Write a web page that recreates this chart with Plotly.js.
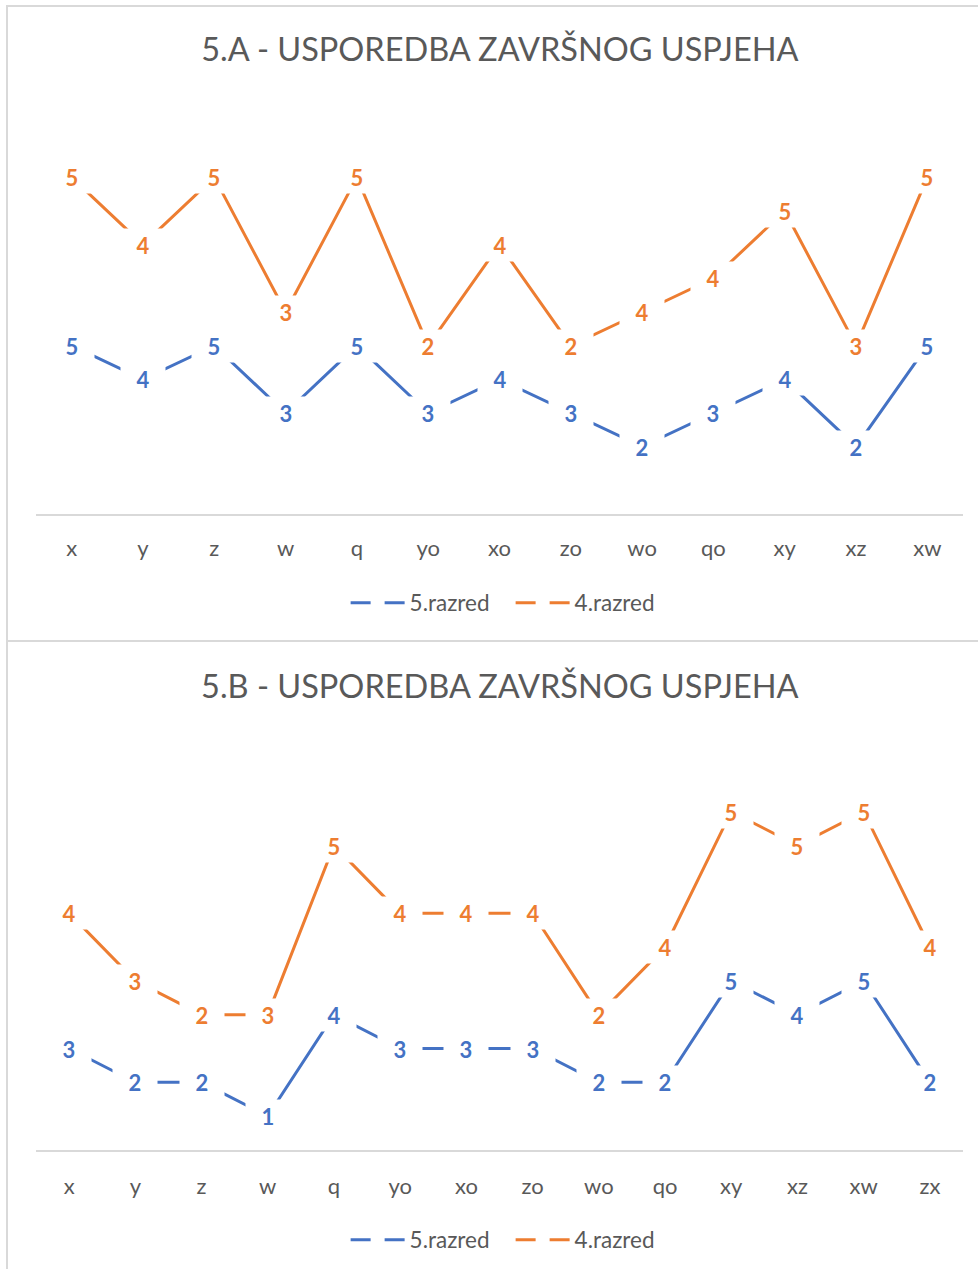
<!DOCTYPE html>
<html>
<head>
<meta charset="utf-8">
<script src="https://cdn.plot.ly/plotly-3.0.1.min.js"></script>
<style>
  html, body { margin:0; padding:0; background:#fff; width:978px; height:1269px; overflow:hidden; }
  .frame { position:absolute; border-left:2px solid #d9d9d9; border-top:2px solid #d9d9d9; background:#fff; }
  #f1 { left:6px; top:5px; width:980px; height:640px; }
  #f2 { left:6px; top:640px; width:980px; height:640px; }
</style>
</head>
<body>
<div class="frame" id="f1"><div id="c1"></div></div>
<div class="frame" id="f2"><div id="c2"></div></div>
<script>
// ---- Data: 5.A ----
const titleA = "5.A - USPOREDBA ZAVRŠNOG USPJEHA";
const catsA = ["x","y","z","w","q","yo","xo","zo","wo","qo","xy","xz","xw"];
const grade5A = [5,4,5,3,5,3,4,3,2,3,4,2,5];
const grade4A = [5,4,5,3,5,2,4,2,4,4,5,3,5];

// ---- Data: 5.B ----
const titleB = "5.B - USPOREDBA ZAVRŠNOG USPJEHA";
const catsB = ["x","y","z","w","q","yo","xo","zo","wo","qo","xy","xz","xw","zx"];
const grade5B = [3,2,2,1,4,3,3,3,2,2,5,4,5,2];
const grade4B = [4,3,2,3,5,4,4,4,2,4,5,5,5,4];

const seriesNames = ["5.razred","4.razred"];
const colors = ["#4472C4","#ED7D31"];
const FONT = "Lato, 'Open Sans', sans-serif";

function drawChart(divId, title, cats, s1, s2, opts) {
  // stacked line chart (Excel "Stacked Line")
  const stack2 = s2.map((v,i)=>v + s1[i]);
  const traces = [];
  traces.push({x:cats, y:s1, type:'scatter', mode:'lines', line:{color:colors[0], width:3}, showlegend:false, hoverinfo:'skip'});
  traces.push({x:cats, y:stack2, type:'scatter', mode:'lines', line:{color:colors[1], width:3}, showlegend:false, hoverinfo:'skip'});
  // legend entries
  traces.push({x:[null], y:[null], type:'scatter', mode:'lines', name:seriesNames[0], line:{color:colors[0], width:3, dash:'20px,14px'}});
  traces.push({x:[null], y:[null], type:'scatter', mode:'lines', name:seriesNames[1], line:{color:colors[1], width:3, dash:'20px,14px'}});

  const ann = [];
  const lab = (c, y, t, col) => ({x:c, y:y, text:t, showarrow:false, bgcolor:'#fff', borderpad:0,
      width:44, height:32, align:'center', valign:'middle',
      font:{family:FONT, size:22, color:col, weight:'bold'}});
  cats.forEach((c,i)=>{
    ann.push(lab(c, s1[i], String(s1[i]), colors[0]));
    ann.push(lab(c, stack2[i], String(s2[i]), colors[1]));
  });

  const layout = {
    width:972, height:opts.height,
    margin:{l:28, r:17, t:opts.top, b:opts.height-opts.axisY},
    paper_bgcolor:'#fff', plot_bgcolor:'#fff',
    font:{family:FONT, color:'#595959'},
    title:{text:title, x:0.506, xanchor:'center', yref:'container', y:1-opts.titleY/opts.height, yanchor:'middle',
      font:{family:FONT, size:32.5, color:'#595959'}},
    xaxis:{type:'category', range:[-0.5, cats.length-0.5], showgrid:false, zeroline:false,
      showline:true, linecolor:'#d9d9d9', linewidth:1.5, ticks:'', ticklabelstandoff:opts.tickStandoff,
      tickfont:{family:FONT, size:22, color:'#595959'}, fixedrange:true},
    yaxis:{range:[0,12], showgrid:false, zeroline:false, showline:false, showticklabels:false, ticks:'', fixedrange:true},
    showlegend:true,
    legend:{orientation:'h', x:0.512, xanchor:'center', yref:'container', y:1-opts.legendY/opts.height, yanchor:'middle',
      font:{family:FONT, size:22.5, color:'#595959'}, itemwidth:54, entrywidth:96, entrywidthmode:'pixels',
      bgcolor:'rgba(0,0,0,0)'},
    annotations:ann
  };
  Plotly.newPlot(divId, traces, layout, {displayModeBar:false, staticPlot:true});
}

drawChart('c1', titleA, catsA, grade5A, grade4A, {height:633, top:103, axisY:507, titleY:43, legendY:596, tickStandoff:14});
drawChart('c2', titleB, catsB, grade5B, grade4B, {height:627, top:102, axisY:508, titleY:45, legendY:598, tickStandoff:16});
</script>
</body>
</html>
